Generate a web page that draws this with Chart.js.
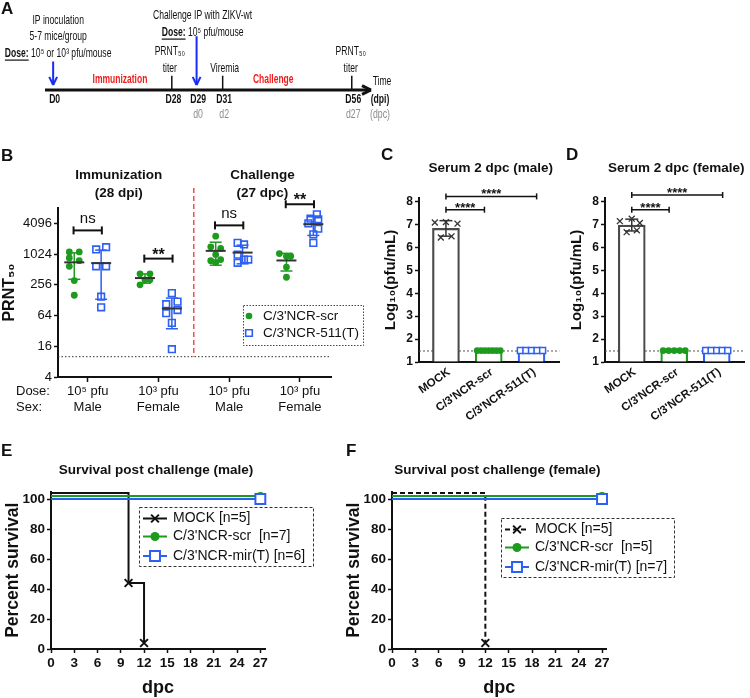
<!DOCTYPE html>
<html>
<head>
<meta charset="utf-8">
<title>ZIKV immunization figure</title>
<script src="https://cdn.jsdelivr.net/npm/chart.js@4.4.1/dist/chart.umd.min.js"></script>
<style>
  body { margin: 0; background: #fff; }
  #page { position: relative; width: 750px; height: 698px; overflow: hidden; background: #fff; }
  canvas { position: absolute; }
  .tag { position: absolute; font: bold 17px 'Liberation Sans', Arial, sans-serif; color: #111; line-height: 17px; }
</style>
</head>
<body>
<div id="page">
  <canvas id="chartA" width="750" height="130" style="left:0;top:0"></canvas>
  <canvas id="chartB" width="375" height="285" style="left:0;top:140px"></canvas>
  <canvas id="chartC" width="185" height="290" style="left:380px;top:140px"></canvas>
  <canvas id="chartD" width="184" height="290" style="left:566px;top:140px"></canvas>
  <canvas id="chartE" width="375" height="250" style="left:0;top:450px"></canvas>
  <canvas id="chartF" width="410" height="250" style="left:340px;top:450px"></canvas>
  <div class="tag" style="left:1px;top:0">A</div>
  <div class="tag" style="left:1px;top:147px">B</div>
  <div class="tag" style="left:381px;top:146px">C</div>
  <div class="tag" style="left:566px;top:146px">D</div>
  <div class="tag" style="left:1px;top:442px">E</div>
  <div class="tag" style="left:346px;top:442px">F</div>
</div>
<script>
// ---------- A: study timeline (schematic positions along the arrow, 0..100) ----------
const tlPos = [2.5, 38.9, 46.5, 54.5, 94.1];
const tlDpi = ['D0', 'D28', 'D29', 'D31', 'D56'];
const tlDpc = ['', '', 'd0', 'd2', 'd27'];
const tlTickAt = [1, 3, 4];
const tlArrowAt = [0, 2];
const tlArrowTop = [0.34, 0.64];
const tlPhases = ['Immunization', 'Challenge'];
const tlPhasePos = [23, 70];

// ---------- B: PRNT50 titers ----------
const bGroups = [['10⁵ pfu', 'Male'], ['10³ pfu', 'Female'], ['10⁵ pfu', 'Male'], ['10³ pfu', 'Female']];
const bYTicks = [4, 16, 64, 256, 1024, 4096];
const bSeries = ["C/3'NCR-scr", "C/3'NCR-511(T)"];
const bScr = [
  [1130, 1130, 860, 760, 590, 310, 160],
  [420, 420, 256, 320, 320],
  [2300, 1420, 1320, 1000, 760, 800, 700],
  [1050, 930, 930, 570, 360]
];
const bScrJit = [
  [-0.07, 0.07, -0.07, 0.07, -0.07, 0, 0],
  [-0.07, 0.07, -0.07, 0, 0.07],
  [0, -0.07, 0.07, 0, -0.07, 0.07, 0],
  [-0.1, 0, 0.06, 0, 0]
];
const b511 = [
  [1260, 1400, 590, 590, 150, 93],
  [176, 107, 120, 71, 82, 46, 14],
  [1700, 1580, 1000, 800, 690, 800],
  [6170, 5070, 4910, 4100, 3220, 2490, 1700]
];
const b511Jit = [
  [-0.07, 0.07, -0.07, 0.07, 0, 0],
  [0, -0.08, 0.08, -0.08, 0.08, 0, 0],
  [-0.07, 0.02, -0.07, 0.08, -0.07, 0.02],
  [0.05, -0.04, 0.07, -0.07, 0.07, 0, 0]
];
const bLod = 10;
const bSig = ['ns', '**', 'ns', '**'];
const bSigAt = [2980, 835, 3740, 9700];

// ---------- C / D: serum viremia 2 dpc ----------
const serumLabels = ['MOCK', "C/3'NCR-scr", "C/3'NCR-511(T)"];
const serumYTicks = [1, 2, 3, 4, 5, 6, 7, 8];
const serumLod = 1.48;
const cMale = [
  [7.08, 7.10, 7.03, 6.43, 6.48],
  [1.5, 1.5, 1.5, 1.5, 1.5, 1.5, 1.5],
  [1.5, 1.5, 1.5, 1.5, 1.5]
];
const cMaleJit = [
  [-0.26, 0, 0.27, -0.12, 0.13],
  [-0.27, -0.18, -0.09, 0, 0.09, 0.18, 0.27],
  [-0.26, -0.13, 0, 0.13, 0.26]
];
const cSigAt = [7.64, 8.22];
const cSigTo = [1.9, 3.12];
const dFemale = [
  [7.14, 7.25, 7.06, 6.66, 6.74],
  [1.5, 1.5, 1.5, 1.5, 1.5],
  [1.5, 1.5, 1.5, 1.5, 1.5]
];
const dFemaleJit = [
  [-0.28, 0, 0.19, -0.12, 0.12],
  [-0.26, -0.13, 0, 0.13, 0.26],
  [-0.26, -0.13, 0, 0.13, 0.26]
];
const dSigAt = [7.64, 8.28];
const dSigTo = [1.88, 3.14];

// ---------- E / F: survival ----------
const survXTicks = [0, 3, 6, 9, 12, 15, 18, 21, 24, 27];
const survYTicks = [0, 20, 40, 60, 80, 100];
const eMockDay = [0, 10, 12], eMockPct = [104, 44, 4];
const eScrDay = [0, 27], eScrPct = [102, 102];
const eMirDay = [0, 27], eMirPct = [100, 100];
const eLegend = ['MOCK [n=5]', "C/3'NCR-scr  [n=7]", "C/3'NCR-mir(T) [n=6]"];
const fMockDay = [0, 12], fMockPct = [104, 4];
const fScrDay = [0, 27], fScrPct = [102, 102];
const fMirDay = [0, 27], fMirPct = [100, 100];
const fLegend = ['MOCK [n=5]', "C/3'NCR-scr  [n=5]", "C/3'NCR-mir(T) [n=7]"];

// ---------- shared look ----------
const FONT = "'Liberation Sans', Arial, sans-serif";
const GREEN = '#1e9a1e';
const BLUE = '#2c5ff2';
const INK = '#111';
const GREY_BAR = '#4a4a4a';
const SQUEEZE = 0.66;   // panel A uses a condensed face

Chart.defaults.font.family = FONT;
Chart.defaults.color = INK;
Chart.defaults.animation = false;
Chart.defaults.responsive = false;
Chart.defaults.plugins.legend.display = false;
Chart.defaults.plugins.tooltip.enabled = false;

function seg(ctx, x1, y1, x2, y2) {
  ctx.beginPath(); ctx.moveTo(x1, y1); ctx.lineTo(x2, y2); ctx.stroke();
}
function text(ctx, s, x, y, size, o = {}) {
  ctx.save();
  ctx.font = (o.bold ? 'bold ' : '') + size + 'px ' + FONT;
  ctx.fillStyle = o.color || INK;
  ctx.textAlign = o.align || 'center';
  ctx.textBaseline = o.base || 'middle';
  ctx.translate(x, y);
  if (o.rot) ctx.rotate(o.rot);
  ctx.scale(o.sx || 1, 1);
  ctx.fillText(s, 0, 0);
  ctx.restore();
}
// a centred line made of runs: [text, 'b' bold | 'bu' bold underlined]
function runLine(ctx, parts, cx, y, size, sx) {
  const fonts = parts.map(p => ((p[1] || '').includes('b') ? 'bold ' : '') + size + 'px ' + FONT);
  const widths = parts.map((p, i) => { ctx.font = fonts[i]; return ctx.measureText(p[0]).width * sx; });
  let x = cx - widths.reduce((s, w) => s + w, 0) / 2;
  parts.forEach((p, i) => {
    text(ctx, p[0], x, y, size, { bold: (p[1] || '').includes('b'), align: 'left', sx: sx });
    if ((p[1] || '').includes('u')) { ctx.fillStyle = INK; ctx.fillRect(x, y + size * 0.5, widths[i], 1.2); }
    x += widths[i];
  });
}
function marker(ctx, style, x, y, r, stroke, fill, lw) {
  ctx.save();
  ctx.setLineDash([]);
  ctx.lineWidth = lw; ctx.strokeStyle = stroke; ctx.fillStyle = fill;
  ctx.beginPath();
  if (style === 'circle') {
    ctx.arc(x, y, r, 0, Math.PI * 2); ctx.fill();
  } else if (style === 'rect') {
    const s = r * Math.SQRT1_2;
    ctx.rect(x - s, y - s, 2 * s, 2 * s); ctx.fill(); ctx.stroke();
  } else {
    const s = r * Math.SQRT1_2;
    ctx.moveTo(x - s, y - s); ctx.lineTo(x + s, y + s);
    ctx.moveTo(x + s, y - s); ctx.lineTo(x - s, y + s); ctx.stroke();
  }
  ctx.restore();
}
function meanSd(a) {
  const m = a.reduce((s, v) => s + v, 0) / a.length;
  const sd = a.length > 1 ? Math.sqrt(a.reduce((s, v) => s + (v - m) ** 2, 0) / (a.length - 1)) : 0;
  return [m, sd];
}
function groupPoints(vals, jit, shift) {
  const out = [];
  vals.forEach((g, i) => g.forEach((v, k) => out.push({ x: i + 1 + shift + jit[i][k], y: v })));
  return out;
}
function fixedTicks(list) {
  return s => { s.ticks = list.map(v => ({ value: v })); };
}
function axisLine(width) {
  return { color: INK, width: width };
}

// ---------- A ----------
const aNotes = [
  { ev: 0, dx: 5, bottom: -37, lines: [[['IP inoculation']], [['5-7 mice/group']], [['Dose:', 'bu'], [' 10⁵ or 10³ pfu/mouse']]] },
  { ev: 2, dx: 6, bottom: -58, lines: [[['Challenge IP with ZIKV-wt']], [['Dose:', 'bu'], [' 10⁵ pfu/mouse']]] },
  { ev: 1, dx: -2, bottom: -22, lines: [[['PRNT₅₀']], [['titer']]] },
  { ev: 3, dx: 2, bottom: -22, lines: [[['Viremia']]] },
  { ev: 4, dx: -1, bottom: -22, lines: [[['PRNT₅₀']], [['titer']]] }
];

const aDecor = {
  id: 'aDecor',
  afterDatasetsDraw(chart) {
    const { ctx, scales: { x, y } } = chart;
    const base = y.getPixelForValue(0);
    ctx.save();
    chart.data.datasets.forEach(ds => {
      if (!ds.head) return;
      const p = ds.data[ds.data.length - 1], q = ds.data[0];
      const px = x.getPixelForValue(p.x), py = y.getPixelForValue(p.y);
      const ang = Math.atan2(py - y.getPixelForValue(q.y), px - x.getPixelForValue(q.x));
      ctx.strokeStyle = ds.borderColor; ctx.lineWidth = ds.borderWidth;
      [0.45, -0.45].forEach(a => seg(ctx, px, py, px - Math.cos(ang + a) * ds.head, py - Math.sin(ang + a) * ds.head));
    });
    aNotes.forEach(n => {
      const cx = x.getPixelForValue(tlPos[n.ev]) + n.dx;
      const nl = n.lines.length;
      n.lines.forEach((ln, i) => runLine(ctx, ln, cx, base + n.bottom - (nl - 1 - i) * 16.5, 13, SQUEEZE));
    });
    tlPhases.forEach((s, i) => text(ctx, s, x.getPixelForValue(tlPhasePos[i]), base - 10, 12.5, { bold: true, color: '#f01c1c', sx: 0.68 }));
    tlDpi.forEach((s, i) => text(ctx, s, x.getPixelForValue(tlPos[i]) + 1.5, base + 9.5, 12, { bold: true, sx: 0.72 }));
    tlDpc.forEach((s, i) => text(ctx, s, x.getPixelForValue(tlPos[i]) + 1.5, base + 25, 12.5, { color: '#8c8c8c', sx: 0.7 }));
    const end = x.getPixelForValue(100);
    text(ctx, 'Time', end + 11, base - 9, 13, { sx: SQUEEZE });
    text(ctx, '(dpi)', end + 9, base + 9.5, 12, { bold: true, sx: 0.72 });
    text(ctx, '(dpc)', end + 9, base + 25, 12.5, { color: '#8c8c8c', sx: 0.7 });
    ctx.restore();
  }
};

new Chart(document.getElementById('chartA'), {
  type: 'line',
  data: {
    datasets: [
      { data: [{ x: 0, y: 0 }, { x: 100, y: 0 }], borderColor: INK, borderWidth: 3, pointRadius: 0, clip: false, head: 10 },
      ...tlTickAt.map(i => ({ data: [{ x: tlPos[i], y: 0 }, { x: tlPos[i], y: 0.17 }], borderColor: INK, borderWidth: 1.5, pointRadius: 0, clip: false })),
      ...tlArrowAt.map((i, k) => ({ data: [{ x: tlPos[i], y: tlArrowTop[k] }, { x: tlPos[i], y: 0.06 }], borderColor: '#1a2cf5', borderWidth: 2, pointRadius: 0, clip: false, head: 9 }))
    ]
  },
  options: {
    layout: { padding: { left: 45, right: 379, top: 6, bottom: 40 } },
    scales: {
      x: { type: 'linear', display: false, min: 0, max: 100 },
      y: { display: false, min: 0, max: 1 }
    }
  },
  plugins: [aDecor]
});

// ---------- B ----------
const bDecor = {
  id: 'bDecor',
  beforeDatasetsDraw(chart) {
    const { ctx, chartArea: ca, scales: { x, y } } = chart;
    ctx.save();
    const ly = y.getPixelForValue(bLod);
    ctx.setLineDash([1.5, 2]); ctx.strokeStyle = '#333'; ctx.lineWidth = 1;
    seg(ctx, ca.left, ly, ca.right, ly);
    ctx.setLineDash([5, 3]); ctx.strokeStyle = '#ff2a2a'; ctx.lineWidth = 1.3;
    const dx = x.getPixelForValue(2.5);
    seg(ctx, dx, ca.top - 20, dx, ly);
    ctx.restore();
  },
  afterDatasetsDraw(chart) {
    const { ctx, scales: { x, y } } = chart;
    ctx.save();
    ctx.setLineDash([]);
    [[bScr, -0.19, GREEN], [b511, 0.19, BLUE]].forEach(([vals, shift, col]) => vals.forEach((g, i) => {
      const [m, sd] = meanSd(g);
      const cx = x.getPixelForValue(i + 1 + shift);
      const t = y.getPixelForValue(m + sd), b = y.getPixelForValue(Math.max(m - sd, 4)), mid = y.getPixelForValue(m);
      ctx.strokeStyle = col; ctx.lineWidth = 1.5;
      seg(ctx, cx, t, cx, b); seg(ctx, cx - 6, t, cx + 6, t); seg(ctx, cx - 6, b, cx + 6, b);
      ctx.strokeStyle = '#333'; ctx.lineWidth = 2;
      seg(ctx, cx - 10, mid, cx + 10, mid);
    }));
    bSig.forEach((s, i) => {
      const x1 = x.getPixelForValue(i + 0.8), x2 = x.getPixelForValue(i + 1.2), yy = y.getPixelForValue(bSigAt[i]);
      ctx.strokeStyle = INK; ctx.lineWidth = 2;
      seg(ctx, x1, yy, x2, yy); seg(ctx, x1, yy - 4, x1, yy + 4); seg(ctx, x2, yy - 4, x2, yy + 4);
      if (s === 'ns') text(ctx, s, (x1 + x2) / 2, yy - 7, 15, { base: 'alphabetic' });
      else text(ctx, s, (x1 + x2) / 2, yy + 1, 16, { bold: true, base: 'alphabetic' });
    });
    text(ctx, 'Immunization', x.getPixelForValue(1.44), 35, 13.5, { bold: true });
    text(ctx, '(28 dpi)', x.getPixelForValue(1.44), 53, 13.5, { bold: true });
    text(ctx, 'Challenge', x.getPixelForValue(3.47), 35, 13.5, { bold: true });
    text(ctx, '(27 dpc)', x.getPixelForValue(3.47), 53, 13.5, { bold: true });
    text(ctx, 'Dose:', 16, 251.7, 13, { align: 'left' });
    text(ctx, 'Sex:', 16, 267.7, 13, { align: 'left' });
    // legend
    ctx.setLineDash([1.5, 1.5]); ctx.strokeStyle = '#444'; ctx.lineWidth = 1;
    ctx.strokeRect(243.5, 165.5, 120, 40);
    marker(ctx, 'circle', 249, 176, 3.3, GREEN, GREEN, 0);
    marker(ctx, 'rect', 249, 193, 4.7, BLUE, '#fff', 1.6);
    text(ctx, bSeries[0], 263, 176, 13.5, { align: 'left' });
    text(ctx, bSeries[1], 263, 193, 13.5, { align: 'left' });
    ctx.restore();
  }
};

new Chart(document.getElementById('chartB'), {
  type: 'scatter',
  data: {
    datasets: [
      { data: groupPoints(bScr, bScrJit, -0.19), pointStyle: 'circle', pointRadius: 3.4, backgroundColor: GREEN, borderColor: GREEN, borderWidth: 0 },
      { data: groupPoints(b511, b511Jit, 0.19), pointStyle: 'rect', pointRadius: 4.7, backgroundColor: 'rgba(255,255,255,0)', borderColor: BLUE, borderWidth: 1.6 }
    ]
  },
  options: {
    layout: { padding: { left: 0, top: 68, right: 44, bottom: 8 } },
    scales: {
      x: {
        type: 'linear', min: 0.58, max: 4.44,
        afterBuildTicks: fixedTicks([1, 2, 3, 4]),
        afterFit: s => { s.height = 40; },
        ticks: { callback: (v, i) => bGroups[i], font: { size: 13 }, color: INK, padding: 2, maxRotation: 0, autoSkip: false },
        grid: { drawOnChartArea: false, tickLength: 5, color: INK, tickWidth: 1.5 },
        border: axisLine(2)
      },
      y: {
        type: 'logarithmic', min: 4, max: 8192,
        afterBuildTicks: fixedTicks(bYTicks),
        afterFit: s => { s.width = 58; },
        ticks: { callback: v => String(v), font: { size: 13 }, color: INK, padding: 2, autoSkip: false },
        grid: { drawOnChartArea: false, tickLength: 4, color: INK, tickWidth: 1.5 },
        border: axisLine(2),
        title: { display: true, text: 'PRNT₅₀', font: { size: 16, weight: 'bold' }, color: INK, padding: { top: 0, bottom: 0 } }
      }
    }
  },
  plugins: [bDecor]
});

// ---------- C / D ----------
function serumChart(id, vals, jit, sigAt, sigTo, title, padRight) {
  const means = vals.map(v => meanSd(v)[0]);
  const decor = {
    id: 'serumDecor',
    beforeDatasetsDraw(chart) {
      const { ctx, chartArea: ca, scales: { y } } = chart;
      ctx.save();
      ctx.setLineDash([2, 2]); ctx.strokeStyle = '#555'; ctx.lineWidth = 1;
      const ly = y.getPixelForValue(serumLod);
      seg(ctx, ca.left, ly, ca.right, ly);
      ctx.restore();
    },
    afterDatasetsDraw(chart) {
      const { ctx, chartArea: ca, scales: { x, y } } = chart;
      ctx.save();
      const [m, sd] = meanSd(vals[0]);
      const cx = x.getPixelForValue(1), t = y.getPixelForValue(m + sd), b = y.getPixelForValue(m - sd);
      ctx.strokeStyle = '#333'; ctx.lineWidth = 1.5;
      seg(ctx, cx, t, cx, b); seg(ctx, cx - 6.5, t, cx + 6.5, t); seg(ctx, cx - 6.5, b, cx + 6.5, b);
      sigAt.forEach((v, i) => {
        const x1 = x.getPixelForValue(1), x2 = x.getPixelForValue(sigTo[i]), yy = y.getPixelForValue(v);
        ctx.strokeStyle = INK; ctx.lineWidth = 1.5;
        seg(ctx, x1, yy, x2, yy); seg(ctx, x1, yy - 3, x1, yy + 3); seg(ctx, x2, yy - 3, x2, yy + 3);
        text(ctx, '****', (x1 + x2) / 2, yy + 2, 13, { bold: true, base: 'alphabetic' });
      });
      // rotated category names, right end anchored just under each tick
      serumLabels.forEach((s, i) => text(ctx, s, x.getPixelForValue(i + 1) + 3, ca.bottom + 9, 11.5,
        { bold: true, align: 'right', rot: -35 * Math.PI / 180 }));
      text(ctx, title, (ca.left + ca.right) / 2 + 1.5, 28.3, 13.5, { bold: true });
      ctx.restore();
    }
  };
  return new Chart(document.getElementById(id), {
    type: 'bar',
    data: {
      datasets: [
        { type: 'bar', data: means.map((v, i) => ({ x: i + 1, y: v })), backgroundColor: '#fff', borderColor: [GREY_BAR, GREEN, BLUE], borderWidth: 2.2, barThickness: 27, base: 1, order: 4 },
        { type: 'scatter', data: vals[0].map((v, k) => ({ x: 1 + jit[0][k], y: v })), pointStyle: 'crossRot', pointRadius: 4.2, borderColor: '#333', borderWidth: 1.3, order: 1 },
        { type: 'scatter', data: vals[1].map((v, k) => ({ x: 2 + jit[1][k], y: v })), pointStyle: 'circle', pointRadius: 3.4, backgroundColor: GREEN, borderColor: GREEN, borderWidth: 0, order: 2 },
        { type: 'scatter', data: vals[2].map((v, k) => ({ x: 3 + jit[2][k], y: v })), pointStyle: 'rect', pointRadius: 4.2, backgroundColor: '#fff', borderColor: BLUE, borderWidth: 1.5, order: 3 }
      ]
    },
    options: {
      layout: { padding: { left: 0, top: 58, right: padRight, bottom: 8 } },
      scales: {
        x: {
          type: 'linear', min: 0.37, max: 3.65, offset: false,
          afterBuildTicks: fixedTicks([1, 2, 3]),
          afterFit: s => { s.height = 60; },
          ticks: { display: false },
          grid: { drawOnChartArea: false, drawTicks: false, offset: false },
          border: axisLine(2)
        },
        y: {
          type: 'linear', min: 1, max: 8.15,
          afterBuildTicks: fixedTicks(serumYTicks),
          afterFit: s => { s.width = 39; },
          ticks: { font: { size: 12, weight: 'bold' }, color: INK, padding: 2, autoSkip: false },
          grid: { drawOnChartArea: false, tickLength: 4, color: INK, tickWidth: 1.5 },
          border: axisLine(2),
          title: { display: true, text: 'Log₁₀(pfu/mL)', font: { size: 15, weight: 'bold' }, color: INK, padding: { top: 2, bottom: 0 } }
        }
      }
    },
    plugins: [decor]
  });
}
serumChart('chartC', cMale, cMaleJit, cSigAt, cSigTo, 'Serum 2 dpc (male)', 5);
serumChart('chartD', dFemale, dFemaleJit, dSigAt, dSigTo, 'Serum 2 dpc (female)', 4);

// ---------- E / F ----------
function xy(days, pct) {
  return days.map((d, i) => ({ x: d, y: pct[i] }));
}
function survivalChart(id, mock, scr, mir, mockDash, legend, box, title, padRight, titlePad) {
  const decor = {
    id: 'survDecor',
    afterDatasetsDraw(chart) {
      const { ctx, chartArea: ca } = chart;
      ctx.save();
      text(ctx, title, (ca.left + ca.right) / 2 - 2, 20, 13.5, { bold: true });
      ctx.setLineDash([3, 2]); ctx.strokeStyle = '#333'; ctx.lineWidth = 1;
      ctx.strokeRect(box.l + 0.5, box.t + 0.5, box.w, box.h);
      const rows = [11.5, 29.5, 49];
      [2, 1, 0].forEach((di, r) => {
        const ds = chart.data.datasets[di];
        const ry = box.t + rows[r];
        ctx.setLineDash(ds.borderDash || []); ctx.strokeStyle = ds.borderColor; ctx.lineWidth = 2;
        seg(ctx, box.l + 4, ry, box.l + 28, ry);
        marker(ctx, ds.pointStyle, box.l + 16, ry, ds.legendRadius, ds.borderColor, ds.pointBackgroundColor, 2);
        text(ctx, legend[r], box.l + 34, ry, 14, { align: 'left' });
      });
      ctx.restore();
    }
  };
  return new Chart(document.getElementById(id), {
    type: 'line',
    data: {
      datasets: [
        { data: mir, stepped: true, borderColor: BLUE, borderWidth: 2, pointStyle: 'rect', pointRadius: [0, 7], pointBackgroundColor: '#fff', pointBorderColor: BLUE, pointBorderWidth: 2, legendRadius: 7, clip: false, order: 1 },
        { data: scr, stepped: true, borderColor: GREEN, borderWidth: 2, pointStyle: 'circle', pointRadius: [0, 4], pointBackgroundColor: GREEN, pointBorderColor: GREEN, pointBorderWidth: 0, legendRadius: 4.5, clip: false, order: 2 },
        { data: mock, stepped: true, borderColor: INK, borderWidth: 2, borderDash: mockDash, pointStyle: 'crossRot', pointRadius: mock.map((p, i) => (i ? 5.5 : 0)), pointBackgroundColor: INK, pointBorderColor: INK, pointBorderWidth: 2, legendRadius: 5.5, clip: false, order: 3 }
      ]
    },
    options: {
      layout: { padding: { left: 0, top: 41.5, right: padRight, bottom: 1 } },
      scales: {
        x: {
          type: 'linear', min: 0, max: 27.6,
          afterBuildTicks: fixedTicks(survXTicks),
          afterFit: s => { s.height = 50; },
          ticks: { font: { size: 13.5, weight: 'bold' }, color: INK, padding: 2, maxRotation: 0, autoSkip: false },
          grid: { drawOnChartArea: false, tickLength: 4, color: INK, tickWidth: 1.5 },
          border: axisLine(2),
          title: { display: true, text: 'dpc', font: { size: 18, weight: 'bold' }, color: INK, padding: { top: 0, bottom: 0 } }
        },
        y: {
          type: 'linear', min: 0, max: 105,
          afterBuildTicks: fixedTicks(survYTicks),
          afterFit: s => { s.width = titlePad + 40; },
          ticks: { font: { size: 13.5, weight: 'bold' }, color: INK, padding: 2, autoSkip: false },
          grid: { drawOnChartArea: false, tickLength: 4, color: INK, tickWidth: 1.5 },
          border: axisLine(2),
          title: { display: true, text: 'Percent survival', font: { size: 17.5, weight: 'bold' }, color: INK, padding: { top: titlePad - 8, bottom: 0 } }
        }
      }
    },
    plugins: [decor]
  });
}
survivalChart('chartE', xy(eMockDay, eMockPct), xy(eScrDay, eScrPct), xy(eMirDay, eMirPct), [],
  eLegend, { l: 139, t: 57, w: 174, h: 59 }, 'Survival post challenge (male)', 110, 11);
survivalChart('chartF', xy(fMockDay, fMockPct), xy(fScrDay, fScrPct), xy(fMirDay, fMirPct), [5, 3],
  fLegend, { l: 161, t: 68, w: 173, h: 59 }, 'Survival post challenge (female)', 143.3, 12);
</script>
</body>
</html>
